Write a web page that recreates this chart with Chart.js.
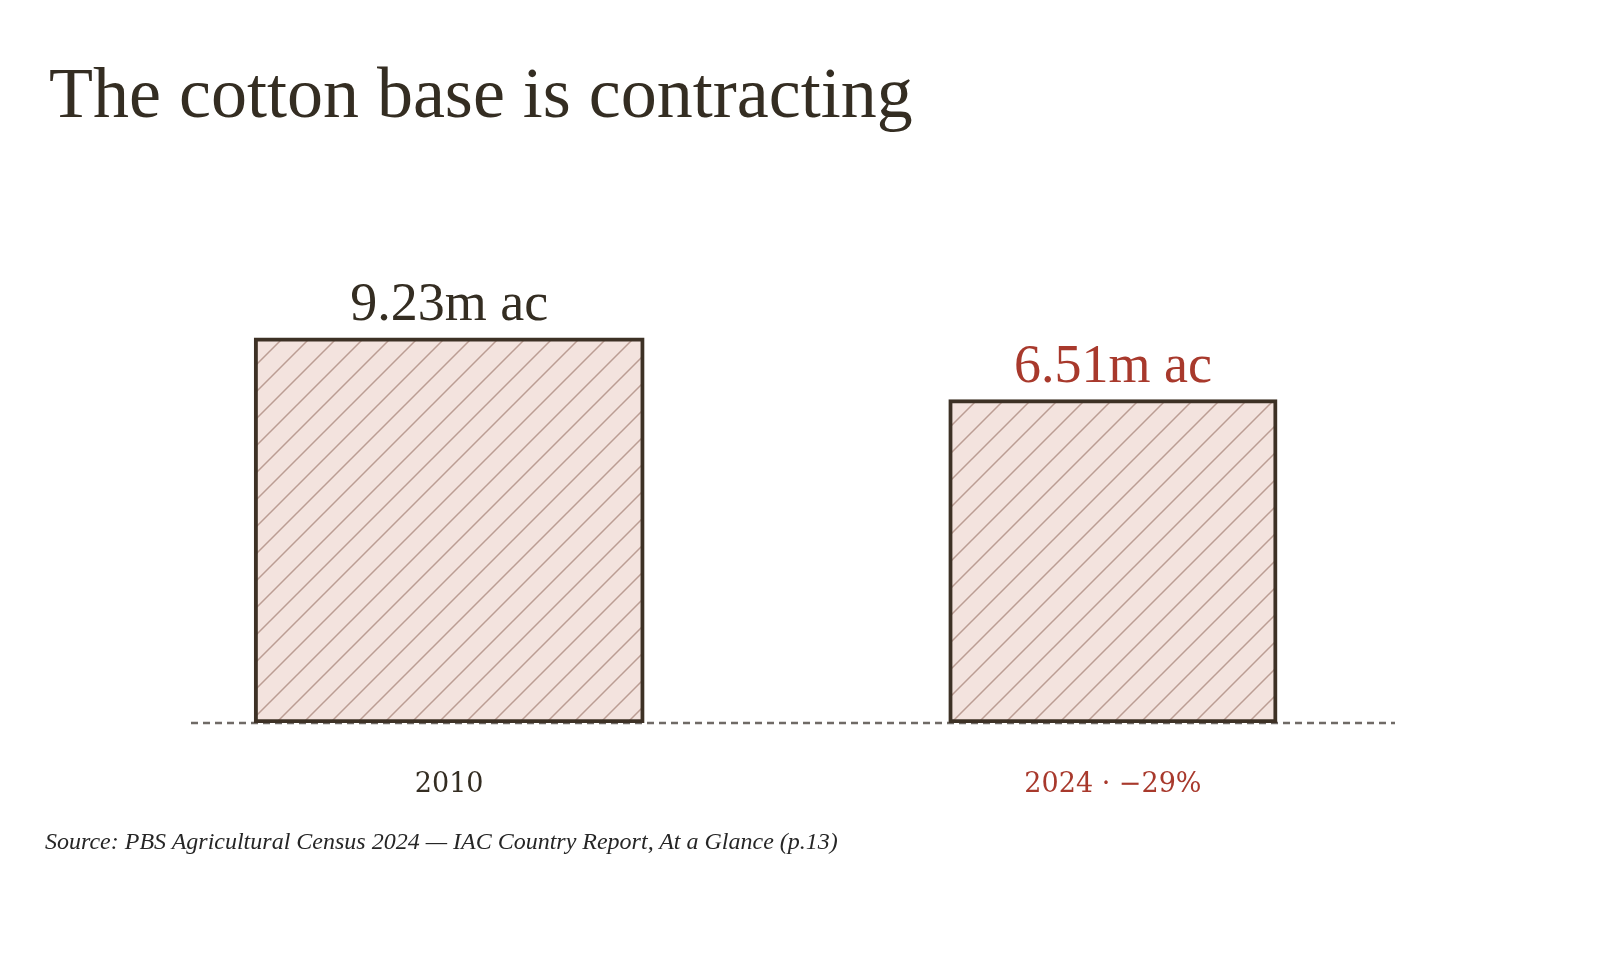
<!DOCTYPE html>
<html>
<head>
<meta charset="utf-8">
<title>The cotton base is contracting</title>
<script src="https://cdn.jsdelivr.net/npm/chart.js@4.4.1/dist/chart.umd.min.js"></script>
<style>
	body { margin: 0; background: #fff; width: 1600px; height: 960px; position: relative; overflow: hidden; }
	#chart { position: absolute; left: 0; top: 0; }
	h1 { position: absolute; left: 49px; top: 57px; margin: 0; font: 400 72px/72px 'Liberation Serif', serif; color: #342d22; white-space: nowrap; }
	.source { position: absolute; left: 45px; top: 829px; font: italic 24px/24px 'Liberation Serif', serif; color: #262626; white-space: nowrap; }
</style>
</head>
<body>
<canvas id="chart" width="1600" height="960"></canvas>
<h1>The cotton base is contracting</h1>
<div class="source">Source: PBS Agricultural Census 2024 — IAC Country Report, At a Glance (p.13)</div>
<script>
// Cotton area, millions of acres
const years = ['2010', '2024'];
const acres = [9.23, 6.51];
const valueLabels = ['9.23m ac', '6.51m ac'];
const tickLabels = ['2010', '2024 · −29%'];
const labelColors = ['#342d22', '#a8392c'];

// diagonal hatch fill for the squares
function makeHatch() {
	const size = 27;
	const c = document.createElement('canvas');
	c.width = size;
	c.height = size;
	const g = c.getContext('2d');
	g.fillStyle = '#f3e3de';
	g.fillRect(0, 0, size, size);
	g.strokeStyle = '#bb9d94';
	g.lineWidth = 1.5;
	g.beginPath();
	g.moveTo(0, size); g.lineTo(size, 0);
	g.moveTo(-size / 2, size / 2); g.lineTo(size / 2, -size / 2);
	g.moveTo(size / 2, size * 1.5); g.lineTo(size * 1.5, size / 2);
	g.stroke();
	return g.createPattern(c, 'repeat');
}
const hatch = makeHatch();

// squares: area follows the value, so the side is sqrt(value)
// (a few px wider to match the outer edge of the stroked box)
const squareBars = {
	id: 'squareBars',
	beforeDatasetsUpdate(chart) {
		const y = chart.scales.y;
		chart.data.datasets.forEach((ds, i) => {
			ds.maxBarThickness = y.getPixelForValue(0) - y.getPixelForValue(Math.sqrt(acres[i])) + 5;
		});
	},
};

// dotted zero line behind the squares
const baseline = {
	id: 'baseline',
	beforeDatasetsDraw(chart) {
		const ctx = chart.ctx;
		const y = chart.scales.y.getPixelForValue(0);
		ctx.save();
		ctx.strokeStyle = '#6f6a66';
		ctx.lineWidth = 2.5;
		ctx.setLineDash([7, 5]);
		ctx.beginPath();
		ctx.moveTo(chart.chartArea.left, y);
		ctx.lineTo(chart.chartArea.right, y);
		ctx.stroke();
		ctx.restore();
	},
};

const valueLabelPlugin = {
	id: 'valueLabels',
	afterDatasetsDraw(chart) {
		const ctx = chart.ctx;
		ctx.save();
		ctx.font = '54px "Liberation Serif"';
		ctx.textAlign = 'center';
		ctx.textBaseline = 'alphabetic';
		chart.data.datasets.forEach((ds, i) => {
			const bar = chart.getDatasetMeta(i).data[0];
			ctx.fillStyle = labelColors[i];
			ctx.fillText(valueLabels[i], bar.x, bar.y - 18);
		});
		ctx.restore();
	},
};

const ctx = document.getElementById('chart').getContext('2d');

const cottonChart = new Chart(ctx, {
	type: 'bar',
	data: {
		datasets: years.map((year, i) => ({
			label: year,
			data: [{ x: i, y: Math.sqrt(acres[i]) }],
			backgroundColor: hatch,
			borderColor: '#3d3125',
			borderWidth: 4,
			borderSkipped: false,
			grouped: false,
			categoryPercentage: 1,
			barPercentage: 1,
		})),
	},
	options: {
		responsive: false,
		animation: false,
		layout: {
			padding: { left: 191, right: 205, top: 216, bottom: 0 },
		},
		plugins: {
			legend: { display: false },
			tooltip: { enabled: false },
		},
		scales: {
			x: {
				type: 'linear',
				offset: false,
				min: -0.389,
				max: 1.425,
				grid: { display: false, drawTicks: false },
				border: { display: false },
				afterBuildTicks: (scale) => {
					scale.ticks = years.map((year, i) => ({ value: i }));
				},
				afterFit: (scale) => {
					scale.height = 237;
				},
				ticks: {
					autoSkip: false,
					maxRotation: 0,
					padding: 46,
					font: { family: 'DejaVu Serif', size: 27 },
					color: (context) => labelColors[context.index],
					callback: (value, index) => tickLabels[index],
				},
			},
			y: {
				display: false,
				min: 0,
				max: 4,
			},
		},
	},
	plugins: [squareBars, baseline, valueLabelPlugin],
});
</script>
</body>
</html>
